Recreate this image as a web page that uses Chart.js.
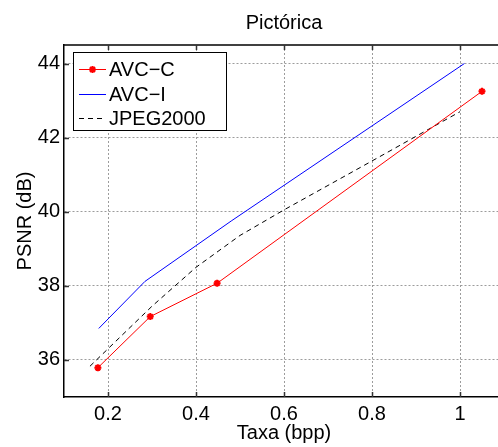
<!DOCTYPE html>
<html>
<head>
<meta charset="utf-8">
<script src="https://cdn.jsdelivr.net/npm/chart.js@4/dist/chart.umd.min.js"></script>
<style>
  html, body { margin: 0; padding: 0; background: #fff; overflow: hidden; }
  #wrap { width: 512px; height: 447px; }
</style>
</head>
<body>
<div id="wrap"><canvas id="canv"></canvas></div>
<script>
// rate (bpp) / PSNR (dB)
const rateAvcC = [0.177, 0.296, 0.448, 1.05];
const psnrAvcC = [35.79, 37.17, 38.07, 43.25];
const rateAvcI = [0.179, 0.284, 0.48, 1.01];
const psnrAvcI = [36.85, 38.12, 39.75, 44.0];
const rateJpeg = [0.159, 0.3, 0.4, 0.5, 0.6, 0.8, 1.0];
const psnrJpeg = [35.83, 37.45, 38.5, 39.36, 40.05, 41.37, 42.7];

const xTicks = [0.2, 0.4, 0.6, 0.8, 1];
const yTicks = [36, 38, 40, 42, 44];
const seriesNames = ['AVC\u2212C', 'AVC\u2212I', 'JPEG2000'];

const FONT = "'Liberation Sans', Arial, Helvetica, sans-serif";

const toPoints = (xs, ys) => xs.map((x, i) => ({x: x, y: ys[i]}));

// matlab-ish box: top border, inward ticks, legend with frame
const boxPlugin = {
    id: 'box',
    afterDraw(chart) {
        const ctx = chart.ctx;
        const a = chart.chartArea;
        const xs = chart.scales.x, ys = chart.scales.y;
        ctx.save();
        ctx.setLineDash([]);
        ctx.strokeStyle = '#000';
        ctx.lineWidth = 1.5;
        ctx.beginPath();
        ctx.moveTo(a.left, a.top);
        ctx.lineTo(a.right, a.top);
        ctx.stroke();

        ctx.strokeStyle = '#333';
        ctx.lineWidth = 1.5;
        ctx.beginPath();
        xTicks.forEach(v => {
            const px = Math.round(xs.getPixelForValue(v)) + 0.5;
            ctx.moveTo(px, a.bottom); ctx.lineTo(px, a.bottom - 5);
            ctx.moveTo(px, a.top); ctx.lineTo(px, a.top + 5);
        });
        yTicks.forEach(v => {
            const py = Math.round(ys.getPixelForValue(v)) + 0.5;
            ctx.moveTo(a.left, py); ctx.lineTo(a.left + 5, py);
        });
        ctx.stroke();

        // legend
        const lx = Math.round(a.left + 9), ly = Math.round(a.top + 7), lw = 153, lh = 78;
        ctx.fillStyle = '#fff';
        ctx.fillRect(lx, ly, lw, lh);
        ctx.strokeStyle = '#000';
        ctx.lineWidth = 1;
        ctx.strokeRect(lx + 0.5, ly + 0.5, lw, lh);
        ctx.font = '20px ' + FONT;
        ctx.textBaseline = 'middle';
        chart.data.datasets.forEach((ds, i) => {
            const cy = Math.round(ly + 17 + i * 24.5) + 0.5;
            ctx.strokeStyle = ds.borderColor;
            ctx.lineWidth = 1;
            ctx.setLineDash(ds.borderDash || []);
            ctx.beginPath();
            ctx.moveTo(lx + 6, cy); ctx.lineTo(lx + 33, cy);
            ctx.stroke();
            ctx.setLineDash([]);
            if (ds.pointRadius > 0) {
                ctx.fillStyle = ds.backgroundColor;
                ctx.strokeStyle = ds.pointBorderColor;
                ctx.lineWidth = ds.pointBorderWidth;
                Chart.helpers.drawPoint(ctx, {pointStyle: ds.pointStyle, radius: ds.pointRadius,
                    borderWidth: ds.pointBorderWidth, rotation: 0}, lx + 19.5, cy);
            }
            ctx.fillStyle = '#000';
            ctx.fillText(ds.label, lx + 36, cy + 1);
        });
        ctx.restore();
    }
};

// dotted grid through the library's own gridlines (v4: dash lives under border)
const gridOpts = {display: true, drawTicks: false, color: '#9c9c9c', lineWidth: 1};
const borderOpts = {color: '#000', width: 1.5, dash: [2, 2]};

new Chart(document.getElementById('canv').getContext('2d'), {
    type: 'scatter',
    data: {
        datasets: [{
            label: seriesNames[0],
            data: toPoints(rateAvcC, psnrAvcC),
            showLine: true,
            borderColor: '#ff0000',
            backgroundColor: '#ff0000',
            borderWidth: 1,
            pointStyle: 'star',
            pointRadius: 3.5,
            pointBorderWidth: 2,
            pointBorderColor: '#ff0000'
        }, {
            label: seriesNames[1],
            data: toPoints(rateAvcI, psnrAvcI),
            showLine: true,
            borderColor: '#0000ff',
            borderWidth: 1,
            pointRadius: 0
        }, {
            label: seriesNames[2],
            data: toPoints(rateJpeg, psnrJpeg),
            showLine: true,
            borderColor: '#000000',
            borderWidth: 1,
            borderDash: [5, 4],
            pointRadius: 0
        }]
    },
    options: {
        responsive: true,
        maintainAspectRatio: false,
        animation: false,
        devicePixelRatio: 1,
        layout: {padding: {left: 0, right: 8, top: 0, bottom: 0}},
        plugins: {
            legend: {display: false},
            tooltip: {enabled: false},
            title: {
                display: true,
                text: 'Pictórica',
                fullSize: false,
                color: '#000',
                font: {family: FONT, size: 20, weight: 'normal'},
                padding: {top: 11, bottom: 10}
            }
        },
        scales: {
            x: {
                type: 'linear',
                min: 0.1,
                max: 1.1,
                afterBuildTicks: s => { s.ticks = xTicks.map(v => ({value: v})); },
                afterFit: s => { s.height = 50; },
                ticks: {
                    color: '#000',
                    font: {family: FONT, size: 20},
                    padding: 5,
                    maxRotation: 0,
                    callback: v => String(v)
                },
                grid: gridOpts,
                border: borderOpts,
                title: {
                    display: true,
                    text: 'Taxa (bpp)',
                    color: '#000',
                    font: {family: FONT, size: 20},
                    padding: {top: 0, bottom: 2}
                }
            },
            y: {
                type: 'linear',
                min: 35,
                max: 44.5,
                afterBuildTicks: s => { s.ticks = yTicks.map(v => ({value: v})); },
                afterFit: s => { s.width = 64; },
                ticks: {
                    color: '#000',
                    font: {family: FONT, size: 20},
                    padding: 4,
                    callback: v => String(v)
                },
                grid: gridOpts,
                border: borderOpts,
                title: {
                    display: true,
                    text: 'PSNR (dB)',
                    color: '#000',
                    font: {family: FONT, size: 20},
                    padding: {top: 13, bottom: 0}
                }
            }
        }
    },
    plugins: [boxPlugin]
});
</script>
</body>
</html>
